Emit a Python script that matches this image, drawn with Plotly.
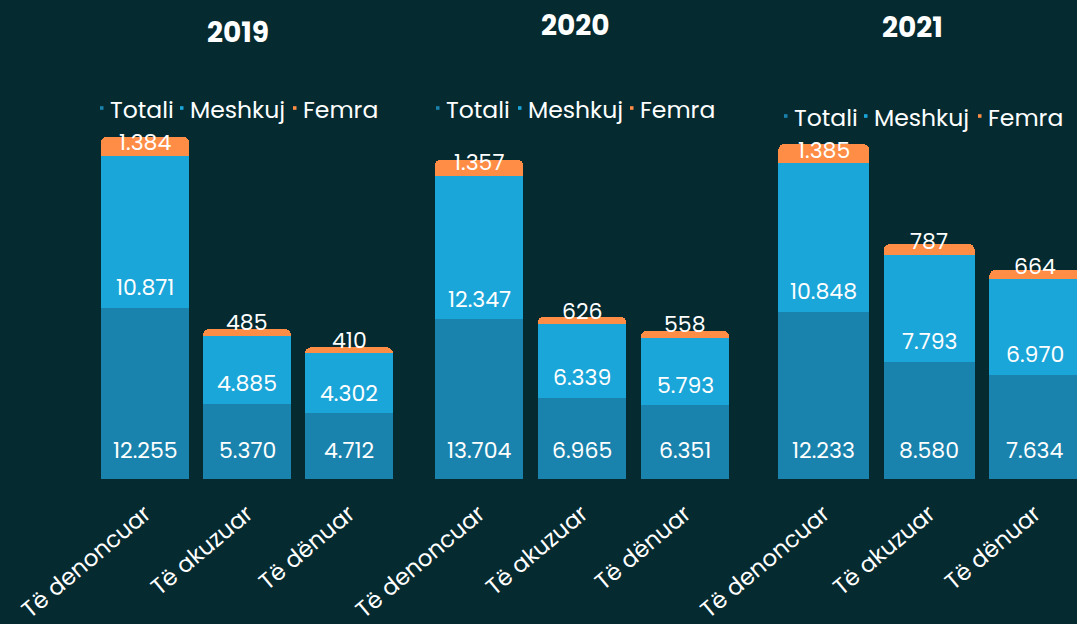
import plotly.graph_objects as go

# ---------------- data ----------------
years = ["2019", "2020", "2021"]
categories = ["Të denoncuar", "Të akuzuar", "Të dënuar"]
series_names = ["Totali", "Meshkuj", "Femra"]

totali_2019 = [12255, 5370, 4712]
meshkuj_2019 = [10871, 4885, 4302]
femra_2019 = [1384, 485, 410]

totali_2020 = [13704, 6965, 6351]
meshkuj_2020 = [12347, 6339, 5793]
femra_2020 = [1357, 626, 558]

totali_2021 = [12233, 8580, 7634]
meshkuj_2021 = [10848, 7793, 6970]
femra_2021 = [1385, 787, 664]

# ---------------- style ----------------
W, H = 1077, 624
BG = "#052a2f"
COLORS = ["#1a83ad", "#1ba6d9", "#ff8d46"]
FONT = "Poppins, Inter, 'Open Sans', sans-serif"
WHITE = "#ffffff"

panel_data = {
    "2019": [totali_2019, meshkuj_2019, femra_2019],
    "2020": [totali_2020, meshkuj_2020, femra_2020],
    "2021": [totali_2021, meshkuj_2021, femra_2021],
}

# layout geometry (pixels)
x_domains_px = [(94, 400), (427.5, 736.5), (771, 1077)]
x_ranges = [[-0.5, 2.5], [-0.5, 2.5], [-0.5, 2.4]]
y_ranges = [[0, 27144], [0, 32549], [0, 27699]]
y_domain = [145 / H, 0.84]
title_pos = [(238, 32), (575, 26), (912, 28)]
legend_text_x = [[110, 190, 303], [446, 528, 640], [794, 874, 988]]
legend_y = [108, 108, 116]
label_shift = [29, 20, 13]


def fmt(v):
    return f"{v:,}".replace(",", ".")


def px_x(x):
    return x / W


def px_y(y):
    return 1 - y / H


fig = go.Figure()

for i, yr in enumerate(years):
    ax = "" if i == 0 else str(i + 1)
    for s, name in enumerate(series_names):
        fig.add_trace(go.Bar(
            x=categories,
            y=panel_data[yr][s],
            name=name,
            marker=dict(color=COLORS[s], line=dict(width=0)),
            xaxis="x" + ax,
            yaxis="y" + ax,
            showlegend=False,
            hoverinfo="skip",
        ))
    # value labels
    base = [0, 0, 0]
    for s in range(3):
        vals = panel_data[yr][s]
        for c, cat in enumerate(categories):
            fig.add_annotation(
                x=cat, y=base[c], xref="x" + ax, yref="y" + ax,
                text=fmt(vals[c]), showarrow=False,
                xanchor="center", yanchor="middle", yshift=label_shift[s],
                font=dict(family=FONT, size=22, color=WHITE),
            )
        base = [base[c] + vals[c] for c in range(3)]

    # year titles
    tx, ty = title_pos[i]
    fig.add_annotation(
        x=px_x(tx), y=px_y(ty), xref="paper", yref="paper",
        text="<b>" + yr + "</b>", showarrow=False,
        xanchor="center", yanchor="middle",
        font=dict(family=FONT, size=28, color=WHITE),
    )

    # legends (small square marker + text)
    for s, name in enumerate(series_names):
        lx = legend_text_x[i][s]
        ly = legend_y[i]
        fig.add_shape(
            type="rect", xref="paper", yref="paper",
            x0=px_x(lx - 10), x1=px_x(lx - 6.5),
            y0=px_y(ly + 1.8), y1=px_y(ly - 1.8),
            fillcolor=COLORS[s], line=dict(width=0),
        )
        fig.add_annotation(
            x=px_x(lx - 2), y=px_y(ly + 1), xref="paper", yref="paper",
            text=name, showarrow=False,
            xanchor="left", yanchor="middle",
            font=dict(family=FONT, size=23.5, color=WHITE),
        )

layout_axes = {}
for i in range(3):
    ax = "" if i == 0 else str(i + 1)
    d0, d1 = x_domains_px[i]
    layout_axes["xaxis" + ax] = dict(
        domain=[d0 / W, d1 / W], range=x_ranges[i], type="category",
        anchor="y" + ax, showgrid=False, zeroline=False, showline=False,
        ticks="", tickangle=-40, automargin=False, ticklabelstandoff=16,
        tickfont=dict(family=FONT, size=23, color=WHITE),
        fixedrange=True,
    )
    layout_axes["yaxis" + ax] = dict(
        domain=y_domain, range=y_ranges[i], anchor="x" + ax,
        visible=False, showgrid=False, zeroline=False, fixedrange=True,
        automargin=False,
    )

fig.update_layout(
    width=W, height=H,
    margin=dict(l=0, r=0, t=0, b=0, autoexpand=False),
    paper_bgcolor=BG, plot_bgcolor=BG,
    barmode="stack", bargap=0.137, barcornerradius=6,
    showlegend=False,
    font=dict(family=FONT, color=WHITE),
    **layout_axes,
)

fig.write_html(
    "out.html",
    config={"displayModeBar": False},
    post_script="document.body.style.margin='0';document.body.style.overflow='hidden';",
)
